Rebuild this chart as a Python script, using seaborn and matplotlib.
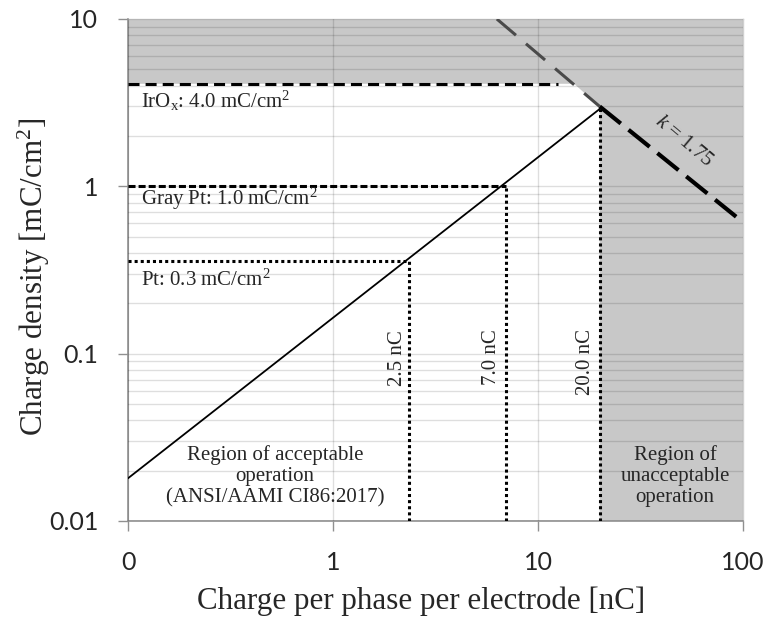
import numpy as np
import pandas as pd
import matplotlib
matplotlib.use("Agg")
import matplotlib.pyplot as plt
import seaborn as sns
from matplotlib.ticker import FixedLocator, FixedFormatter, LogLocator, NullFormatter

# ---- data ----
charge_line_x = [0.1, 20.0]          # nC
charge_line_y = [0.018, 2.9]         # mC/cm^2
shannon_upper_x = [6.3, 20.0]
shannon_upper_y = [10.0, 3.0]
shannon_lower_x = [20.0, 100.0]
shannon_lower_y = [3.0, 0.61]
limit_names = ["IrOx", "Gray Pt", "Pt"]
limit_density = [4.1, 1.0, 0.36]     # mC/cm^2 (drawn position)
limit_charge = [2.35, 7.0, 20.0]     # nC
limit_hline_end = [12.5, 7.0, 2.35]
limit_vline_top = [0.36, 1.0, 2.9]
region_x = [0.1, 100, 100, 20, 20, 15, 0.1]
region_y = [10, 10, 0.01, 0.01, 3.0, 4.1, 4.1]
xticks = [0.1, 1, 10, 100]
xtick_labels = ["0", "1", "10", "100"]
yticks = [0.01, 0.1, 1, 10]
ytick_labels = ["0.01", "0.1", "1", "10"]

sns.set_theme(style="white")
plt.rcParams['font.family'] = ['Liberation Serif', 'DejaVu Serif']
plt.rcParams['mathtext.fontset'] = 'custom'
plt.rcParams['mathtext.rm'] = 'Liberation Serif'
plt.rcParams['mathtext.it'] = 'Liberation Serif:italic'

L, R, T, B = 128, 743, 19, 521
fig = plt.figure(figsize=(7.67, 6.22), dpi=100)
ax = fig.add_axes([L/767, 1-B/622, (R-L)/767, (B-T)/622])
ax.set_xscale("log")
ax.set_yscale("log")
ax.set_xlim(0.1, 100)
ax.set_ylim(0.01, 10)

def px(x, y):
    """pixel -> data coordinates (for text placement only)"""
    return 0.1 * 10 ** ((x - L) / ((R - L) / 3)), 0.01 * 10 ** ((B - y) / ((B - T) / 3))

# shaded unacceptable region
ax.fill(region_x, region_y, color="#c8c8c8", lw=0, zorder=0)

# grid
ax.yaxis.set_minor_locator(LogLocator(base=10, subs=np.arange(2, 10)))
ax.yaxis.set_minor_formatter(NullFormatter())
ax.xaxis.set_minor_locator(FixedLocator([]))
ax.grid(True, which="both", axis="y", color="black", alpha=0.13, lw=1.0, zorder=1)
ax.grid(True, which="major", axis="x", color="black", alpha=0.13, lw=1.0, zorder=1)
ax.set_axisbelow(False)

# main line
df = pd.DataFrame({"q": charge_line_x, "d": charge_line_y})
sns.lineplot(data=df, x="q", y="d", color="black", lw=1.3, ax=ax, zorder=4)

# Shannon limit
ax.plot(shannon_upper_x, shannon_upper_y, color="#4a4a4a", lw=2.2, dashes=(8.2, 4.3), zorder=4)
ax.plot(shannon_lower_x, shannon_lower_y, color="black", lw=3.0, dashes=(6.5, 2.4), zorder=4)

# limits
ax.plot([0.1, limit_hline_end[0]], [limit_density[0]] * 2, color="black", lw=2.2, dashes=(3.6, 2), zorder=4)
ax.plot([0.1, limit_hline_end[1]], [limit_density[1]] * 2, color="black", lw=2.2, dashes=(2.3, 1), zorder=4)
ax.plot([0.1, limit_hline_end[2]], [limit_density[2]] * 2, color="black", lw=2.2, dashes=(1, 1), zorder=4)
for qx, dy in zip(limit_charge, limit_vline_top):
    ax.plot([qx, qx], [0.01, dy], color="black", lw=2.2, dashes=(1, 1), zorder=4)

fs_note = 15
ax.text(*px(141, 101), r"IrO$_\mathregular{x}$: 4.0 mC/cm$^\mathregular{2}$", fontsize=fs_note, va="center", ha="left", zorder=5)
ax.text(*px(141, 199), r"Gray Pt: 1.0 mC/cm$^\mathregular{2}$", fontsize=fs_note, va="center", ha="left", zorder=5)
ax.text(*px(141, 280), r"Pt: 0.3 mC/cm$^\mathregular{2}$", fontsize=fs_note, va="center", ha="left", zorder=5)

for (xp, yp), lab in zip([(397, 358), (492, 357), (586, 362)], ["2.5 nC", "7.0 nC", "20.0 nC"]):
    ax.text(*px(xp, yp), lab, rotation=90, fontsize=fs_note, ha="center", va="center", zorder=5)

ax.text(*px(275, 476), "Region of acceptable\noperation\n(ANSI/AAMI CI86:2017)",
        fontsize=fs_note, ha="center", va="center", linespacing=1.15, zorder=5)
ax.text(*px(675, 476), "Region of\nunacceptable\noperation",
        fontsize=fs_note, ha="center", va="center", linespacing=1.15, zorder=5)
ax.text(*px(684, 141), r"$\mathit{k}$ = 1.75", fontsize=fs_note, rotation=-40,
        ha="center", va="center", rotation_mode="anchor", zorder=5)

# ticks and labels
ax.xaxis.set_major_locator(FixedLocator(xticks))
ax.xaxis.set_major_formatter(FixedFormatter(xtick_labels))
ax.yaxis.set_major_locator(FixedLocator(yticks))
ax.yaxis.set_major_formatter(FixedFormatter(ytick_labels))
ax.tick_params(axis="both", which="major", direction="out", length=7.5, width=1, color="#909090",
               labelsize=18, pad=14, bottom=True, left=True)
ax.tick_params(axis="y", which="minor", left=False)
for lab in ax.get_xticklabels() + ax.get_yticklabels():
    lab.set_family(["Lato", "DejaVu Sans"])

ax.set_xlabel("Charge per phase per electrode [nC]", fontsize=22.3)
ax.set_ylabel(r"Charge density [mC/cm$^\mathregular{2}$]", fontsize=22.3)
ax.xaxis.set_label_coords((421 - L) / (R - L), -(601 - B) / (B - T))
ax.xaxis.label.set_va("center")
ax.yaxis.set_label_coords((34 - L) / (R - L), (B - 277) / (B - T))
ax.yaxis.label.set_va("center")

for s in ["left", "bottom"]:
    ax.spines[s].set_color("#909090")
    ax.spines[s].set_linewidth(1.2)
for s in ["top", "right"]:
    ax.spines[s].set_color("#d0d0d0")
    ax.spines[s].set_linewidth(1.0)

fig.savefig("out.png", dpi=100)
